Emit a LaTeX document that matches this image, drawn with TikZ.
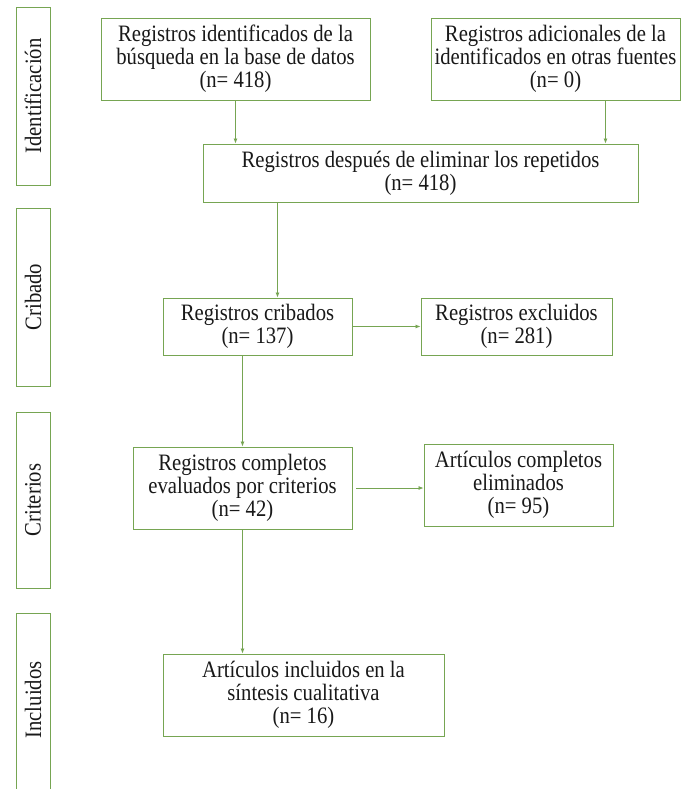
\documentclass[tikz,border=0pt]{standalone}
\usepackage{fontspec}
\setmainfont[FakeStretch=0.88]{Liberation Serif}
\usepackage{tikz}
\usetikzlibrary{arrows.meta}
\definecolor{prismaline}{RGB}{118, 165, 82}
\definecolor{prismatext}{RGB}{25, 25, 25}

\begin{document}
\begin{tikzpicture}[x=1pt, y=-1pt,
		box/.style={draw=prismaline, line width=0.9pt, align=center, inner sep=0pt,
			text=prismatext, font=\fontsize{23.5}{23}\selectfont},
		phase/.style={draw=prismaline, line width=0.9pt, inner sep=0pt},
		phaselabel/.style={rotate=90, text=prismatext, font=\fontsize{23.5}{23}\selectfont},
		flow/.style={draw=prismaline, line width=0.8pt, -{Latex[length=5pt, width=4pt]}}]
			\useasboundingbox[clip] (0,0) rectangle (689,789);
			\fill[white] (0,0) rectangle (689,789);

			% Phases (left column)
			\node[phase, minimum width=34, minimum height=178] (fIdent) at (33, 96) {};
			\node[phase, minimum width=34, minimum height=178] (fCrib) at (33, 297) {};
			\node[phase, minimum width=34, minimum height=176] (fCrit) at (33, 500) {};
			\node[phase, minimum width=34, minimum height=180] (fIncl) at (33, 703) {};
			\node[phaselabel] (lIdent) at (fIdent) {Identificación};
			\node[phaselabel] (lCrib) at (fCrib) {Cribado};
			\node[phaselabel] (lCrit) at (fCrit) {Criterios};
			\node[phaselabel] (lIncl) at (33, 700) {Incluidos};

			% Identification
			\node[box, minimum width=269, minimum height=82] (bBase) at (235.5, 59)
				{Registros identificados de la\\búsqueda en la base de datos\\(n= 418)};
			\node[box, minimum width=249, minimum height=82] (bOtras) at (555.5, 59)
				{Registros adicionales de la\\identificados en otras fuentes\\(n= 0)};
			\node[box, minimum width=435, minimum height=58] (bUnicos) at (420.5, 173)
				{Registros después de eliminar los repetidos\\(n= 418)};

			% Screening
			\node[box, minimum width=189, minimum height=57] (bCrib) at (257.5, 326.5)
				{Registros cribados\\(n= 137)};
			\node[box, minimum width=191, minimum height=57] (bExcl) at (516.5, 326.5)
				{Registros excluidos\\(n= 281)};

			% Eligibility
			\node[box, minimum width=219, minimum height=82] (bComp) at (242.5, 488)
				{Registros completos\\evaluados por criterios\\(n= 42)};
			\node[box, minimum width=189, minimum height=82] (bElim) at (518.5, 485)
				{Artículos completos\\eliminados\\(n= 95)};

			% Included
			\node[box, minimum width=281, minimum height=82] (bIncl) at (303.5, 695)
				{Artículos incluidos en la\\síntesis cualitativa\\(n= 16)};

			% Arrows
			\draw[flow] (bBase.south) -- (bBase.south |- bUnicos.north);
			\draw[flow] ([xshift=50pt]bOtras.south) -- ([xshift=50pt]bOtras.south |- bUnicos.north);
			\draw[flow] ([xshift=20pt]bCrib.north |- bUnicos.south) -- ([xshift=20pt]bCrib.north);
			\draw[flow] (bCrib.east) -- (bExcl.west);
			\draw[flow] (bCrib.south -| bComp.north) -- (bComp.north);
			\draw[flow, shorten <=4pt] (bComp.east) -- (bComp.east -| bElim.west);
			\draw[flow] (bComp.south) -- (bComp.south |- bIncl.north);

		\end{tikzpicture}
\end{document}
